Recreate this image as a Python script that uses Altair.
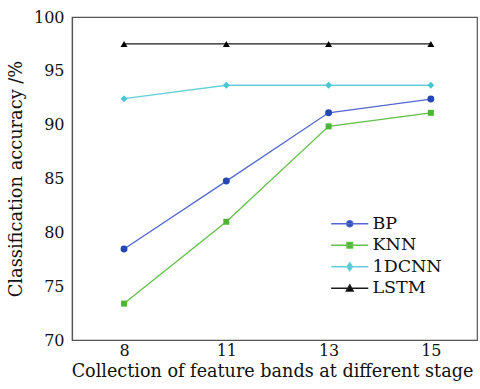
import altair as alt
import pandas as pd

# Feature-band stages on the x axis and the models compared
bands = ["8", "11", "13", "15"]
models = ["BP", "KNN", "1DCNN", "LSTM"]

# Classification accuracy (%) per model at each stage
bp_acc = [78.45, 84.76, 91.10, 92.38]
knn_acc = [73.38, 80.98, 89.84, 91.10]
cnn_acc = [92.41, 93.66, 93.66, 93.66]
lstm_acc = [97.50, 97.50, 97.50, 97.50]

line_colors = ["#5468d0", "#62c048", "#66d0da", "#1a1a1a"]
marker_colors = ["#2447b5", "#4cb534", "#48c6d6", "#000000"]
marker_shapes = ["circle", "square", "diamond", "triangle-up"]
marker_sizes = [48, 36, 48, 48]

# Legend symbols: a short line segment with the model's marker on it
legend_paths = [
    "M-5.3,0H5.3M-0.9,0A0.9,0.9,0,1,1,0.9,0A0.9,0.9,0,1,1,-0.9,0Z",
    "M-5.3,0H5.3M-0.8,-0.8H0.8V0.8H-0.8Z",
    "M-5.3,0H5.3M0,-1.2L0.8,0L0,1.2L-0.8,0Z",
    "M-5.3,0H5.3M0,-1.0L1.0,0.8H-1.0Z",
]

series = [bp_acc, knn_acc, cnn_acc, lstm_acc]
df = pd.DataFrame(
    [
        {"band": b, "model": m, "acc": v}
        for m, vals in zip(models, series)
        for b, v in zip(bands, vals)
    ]
)

FONT = "DejaVu Serif"

x_enc = alt.X(
    "band:O",
    sort=bands,
    scale=alt.Scale(type="point", padding=0.48, align=0.53),
    axis=alt.Axis(
        title="Collection of feature bands at different stage",
        labelAngle=0,
        ticks=False,
        labelPadding=2,
        titlePadding=4,
        titleFontSize=17.6,
        titleX=200,
    ),
)
y_enc = alt.Y(
    "acc:Q",
    scale=alt.Scale(domain=[70, 100], nice=False, zero=False),
    axis=alt.Axis(
        title="Classification accuracy /%",
        values=[70, 75, 80, 85, 90, 95, 100],
        ticks=False,
        grid=False,
        labelPadding=8,
        titlePadding=8,
        titleFontSize=17.8,
    ),
)

base = alt.Chart(df).encode(x=x_enc, y=y_enc)

layers = []
for m, lc, mc, shp, sz in zip(models, line_colors, marker_colors, marker_shapes, marker_sizes):
    sub = base.transform_filter(alt.datum.model == m)
    layers.append(sub.mark_line(color=lc, strokeWidth=1.3))
    layers.append(sub.mark_point(filled=True, color=mc, shape=shp, size=sz, opacity=1))

# Legend layer: no visible data marks, only drives the legend entries
legend_layer = (
    base.transform_filter("datum.acc > 1000")
    .mark_point(filled=True, opacity=1)
    .encode(
        fill=alt.Fill(
            "model:N",
            scale=alt.Scale(domain=models, range=marker_colors),
            legend=alt.Legend(title=None),
        ),
        stroke=alt.Stroke(
            "model:N",
            scale=alt.Scale(domain=models, range=line_colors),
            legend=alt.Legend(title=None),
        ),
        shape=alt.Shape(
            "model:N",
            scale=alt.Scale(domain=models, range=legend_paths),
            legend=alt.Legend(title=None),
        ),
    )
)
layers.append(legend_layer)

chart = (
    alt.layer(*layers)
    .properties(
        width=405,
        height=323,
        autosize=alt.AutoSizeParams(type="none"),
        padding={"left": 72, "top": 17, "right": 3, "bottom": 49},
        background="white",
    )
    .configure_view(stroke="#555555", strokeWidth=1.2)
    .configure_axis(
        labelFont=FONT,
        titleFont=FONT,
        labelFontSize=16,
        titleFontWeight="normal",
        labelColor="#111111",
        titleColor="#111111",
        domainColor="#555555",
        domainWidth=1.2,
    )
    .configure_legend(
        orient="none",
        legendX=269,
        legendY=198,
        labelFont=FONT,
        labelFontSize=17.5,
        labelColor="#111111",
        labelOffset=14,
        symbolSize=49,
        symbolStrokeWidth=1.3,
        rowPadding=2.5,
        padding=0,
    )
)

chart.save("out.html", embed_options={"renderer": "svg", "actions": False})
